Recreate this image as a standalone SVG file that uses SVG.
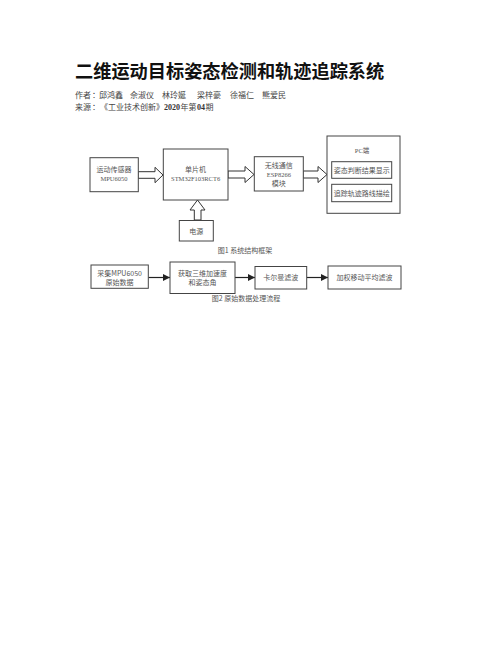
<svg xmlns="http://www.w3.org/2000/svg" width="502" height="649" viewBox="0 0 502 649">
<style>
.t{font-family:"Noto Sans CJK SC","Noto Sans",sans-serif;font-size:8px;fill:#444;}
.n{font-family:"Liberation Serif",serif;font-size:8px;font-weight:bold;fill:#333;}
.f{font-family:"Liberation Serif","Noto Sans CJK SC",serif;font-size:6.5px;fill:#555;text-anchor:middle;}
.m{font-family:"Noto Sans CJK SC",sans-serif;font-size:7px;fill:#555;text-anchor:middle;}
.b{fill:#fff;stroke:#444;stroke-width:1;}
.h{fill:#fff;stroke:#333;stroke-width:1;}
.l{stroke:#222;stroke-width:1.2;fill:none;}
</style>
<defs>
<marker id="ah" viewBox="0 0 10 10" refX="10" refY="5" markerWidth="7" markerHeight="7" markerUnits="userSpaceOnUse" orient="auto">
<path d="M0,0 L10,5 L0,10 z" fill="#222"/>
</marker>
</defs>
<rect width="502" height="649" fill="#fff"/>
<g id="header">
<text class="t" x="75" y="78" style="font-size:18.2px;font-weight:bold;fill:#111">二维运动目标姿态检测和轨迹追踪系统</text>
<text class="t" x="75" y="98">作者</text>
<text class="t" x="92" y="98">：</text>
<text class="t" x="99" y="98">邱鸿鑫</text>
<text class="t" x="130" y="98">佘淑仪</text>
<text class="t" x="162" y="98">林玲娫</text>
<text class="t" x="197" y="98">梁梓豪</text>
<text class="t" x="230" y="98">徐福仁</text>
<text class="t" x="262" y="98">熊爱民</text>
<text class="t" x="75" y="110">来源</text>
<text class="t" x="92" y="110">：</text>
<text class="t" x="100" y="110">《工业技术创新》</text>
<text class="n" x="164" y="110">2020</text>
<text class="t" x="180.5" y="110">年</text>
<text class="t" x="188.5" y="110">第</text>
<text class="n" x="197" y="110">04</text>
<text class="t" x="205.5" y="110">期</text>
</g>
<g id="connectors">
<polygon class="h" points="138,171.7 155,171.7 155,167.3 163,175 155,182.7 155,178.3 138,178.3"/>
<polygon class="h" points="228,171 245,171 245,166.5 254,174.5 245,182.5 245,178 228,178"/>
<polygon class="h" points="303,171 318,171 318,166.5 327,174.5 318,182.5 318,178 303,178"/>
<polygon class="h" points="194.3,220 194.3,210 190,210 197.5,200 205,210 201,210 201,220"/>
<line class="l" x1="148.3" y1="277.5" x2="170" y2="277.5" marker-end="url(#ah)"/>
<line class="l" x1="235" y1="277.5" x2="255" y2="277.5" marker-end="url(#ah)"/>
<line class="l" x1="306.7" y1="277.5" x2="328" y2="277.5" marker-end="url(#ah)"/>
</g>
<g id="sensor">
<rect class="b" x="90" y="157.7" width="48.3" height="34"/>
<text class="m" x="114" y="172">运动传感器</text>
<text class="f" x="114" y="180.5">MPU6050</text>
</g>
<g id="mcu">
<rect class="b" x="163.3" y="149" width="64.7" height="51"/>
<text class="m" x="195.6" y="172">单片机</text>
<text class="f" x="195.6" y="181">STM32F103RCT6</text>
</g>
<g id="power">
<rect class="b" x="179.3" y="220.5" width="34" height="20.5"/>
<text class="m" x="196.3" y="233.5">电源</text>
</g>
<g id="wifi">
<rect class="b" x="254.3" y="156.7" width="49" height="34.3"/>
<text class="m" x="278.8" y="167.5">无线通信</text>
<text class="f" x="278.8" y="176.5">ESP8266</text>
<text class="m" x="278.8" y="185.8">模块</text>
</g>
<g id="pc">
<rect class="b" x="327" y="136" width="73" height="77.3"/>
<text class="f" x="362" y="152.5">PC端</text>
<rect class="b" x="331.7" y="161.7" width="60" height="16.6"/>
<text class="m" x="361.7" y="172.5">姿态判断结果显示</text>
<rect class="b" x="331.7" y="184.3" width="60" height="17.4"/>
<text class="m" x="361.7" y="195.5">追踪轨迹路线描绘</text>
</g>
<text class="m" x="245" y="252.5">图1 系统结构框架</text>
<g id="collect">
<rect class="b" x="91" y="265" width="57.3" height="23.3"/>
<text class="m" x="119.6" y="275.5">采集MPU6050</text>
<text class="m" x="119.6" y="284.5">原始数据</text>
</g>
<g id="acquire">
<rect class="b" x="170" y="262" width="65" height="31.5"/>
<text class="m" x="202.5" y="275.5">获取三维加速度</text>
<text class="m" x="202.5" y="284.5">和姿态角</text>
</g>
<g id="kalman">
<rect class="b" x="255" y="266.5" width="51.7" height="22.5"/>
<text class="m" x="280.8" y="280">卡尔曼滤波</text>
</g>
<g id="wma">
<rect class="b" x="328" y="266" width="73" height="23"/>
<text class="m" x="364.5" y="280">加权移动平均滤波</text>
</g>
<text class="m" x="246" y="300.5">图2 原始数据处理流程</text>
</svg>
